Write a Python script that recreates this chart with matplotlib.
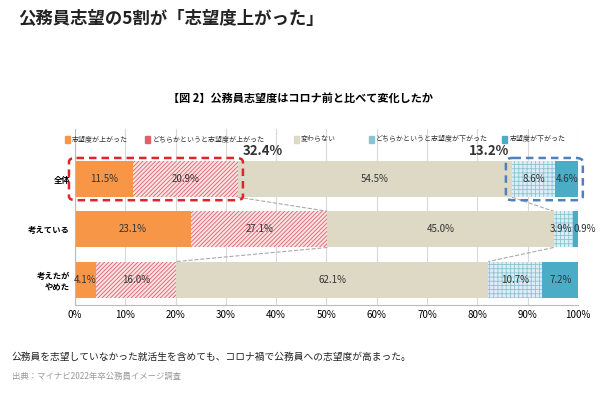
import matplotlib
matplotlib.use("Agg")
import matplotlib.pyplot as plt
from matplotlib.patches import FancyBboxPatch
import numpy as np

plt.rcParams["font.family"] = ["Noto Sans CJK JP", "DejaVu Sans"]
plt.rcParams["hatch.linewidth"] = 0.6

categories = ["全体", "考えている", "考えたが\nやめた"]
series_names = ["志望度が上がった", "どちらかというと志望度が上がった", "変わらない",
                "どちらかというと志望度が下がった", "志望度が下がった"]
values = [
    [11.5, 23.1, 4.1],
    [20.9, 27.1, 16.0],
    [54.5, 45.0, 62.1],
    [8.6, 3.9, 10.7],
    [4.6, 0.9, 7.2],
]
up_total = "32.4%"
down_total = "13.2%"
xticks = [0, 10, 20, 30, 40, 50, 60, 70, 80, 90, 100]

colors = ["#F79646", "#FBE3E3", "#DDD9C4", "#DCEEF3", "#4BACC6"]
hatches = [None, "////////", None, "++++", None]
hatch_colors = [None, "#E0606A", None, "#8CC3D4", None]

fig = plt.figure(figsize=(6, 4), dpi=100)
fig.text(0.03, 0.94, "公務員志望の5割が「志望度上がった」", fontsize=12.5, fontweight="bold", color="#222222")
fig.text(0.5, 0.745, "【図 2】公務員志望度はコロナ前と比べて変化したか", fontsize=8, fontweight="bold", ha="center")
fig.text(0.02, 0.1, "公務員を志望していなかった就活生を含めても、コロナ禍で公務員への志望度が高まった。", fontsize=7, color="#222222")
fig.text(0.02, 0.052, "出典：マイナビ2022年卒公務員イメージ調査", fontsize=6, color="#999999")

ax = fig.add_axes([0.125, 0.238, 0.838, 0.44])
y = np.array([0, 1, 2])
bh = 0.72
left = np.zeros(3)
for i, vals in enumerate(values):
    v = np.array(vals)
    ax.barh(y, v, left=left, height=bh, color=colors[i], edgecolor=hatch_colors[i] if hatches[i] else colors[i],
            hatch=hatches[i], linewidth=0, zorder=2)
    for j in range(3):
        x = left[j] + v[j] / 2
        ha = "center"
        if i == 3 and v[j] < 5:
            x, ha = 98.9, "right"
        if i == 4 and v[j] < 2:
            x, ha = 99.1, "left"
        ax.text(x, y[j], f"{v[j]:.1f}%", ha=ha, va="center", fontsize=7, color="#333333", zorder=5, clip_on=False)
    left = left + v

ax.set_ylim(2.5, -1.0)
ax.set_xlim(0, 100)
ax.set_yticks(y)
ax.set_yticklabels(categories, fontsize=6, fontweight="bold")
ax.set_xticks(xticks)
ax.set_xticklabels([f"{t}%" for t in xticks], fontsize=7)
ax.tick_params(length=0)
ax.grid(axis="x", color="#D9D9D9", linewidth=0.8, zorder=0)
ax.set_axisbelow(True)
for s in ["top", "right"]:
    ax.spines[s].set_visible(False)
ax.spines["left"].set_color("#BBBBBB")
ax.spines["bottom"].set_color("#BBBBBB")

# connector lines
cum = np.cumsum(np.array(values), axis=0)
for j in range(2):
    for a, b in [(0, 0), (cum[1][j], cum[1][j + 1]), (cum[2][j], cum[2][j + 1]), (100, 100)]:
        ax.plot([a, b], [j + bh / 2, j + 1 - bh / 2], ls="--", color="#AAAAAA", lw=0.8, zorder=1)

# highlight boxes
ax.add_patch(FancyBboxPatch((-1.2, -bh / 2 - 0.06), cum[1][0] + 2.2, bh + 0.12,
                            boxstyle="round,pad=0,rounding_size=1.5", fill=False, ec="#E0242C",
                            ls=(0, (3, 2)), lw=1.8, zorder=6, mutation_aspect=0.05, clip_on=False))
ax.add_patch(FancyBboxPatch((cum[2][0] - 1.2, -bh / 2 - 0.06), 100 - cum[2][0] + 2.2, bh + 0.12,
                            boxstyle="round,pad=0,rounding_size=1.5", fill=False, ec="#4F81BD",
                            ls=(0, (3, 2)), lw=1.8, zorder=6, mutation_aspect=0.05, clip_on=False))
ax.text(cum[1][0] + 1, -bh / 2 - 0.05, up_total, fontsize=9.5, fontweight="bold", color="#333333", va="bottom")
ax.text(cum[2][0] - 0.5, -bh / 2 - 0.05, down_total, fontsize=9.5, fontweight="bold", color="#333333", va="bottom", ha="right")

# legend
lx = [-2, 14.0, 43.5, 58.5, 85.0]
for i, name in enumerate(series_names):
    ax.add_patch(plt.Rectangle((lx[i], -0.86), 1.0, 0.14, color=colors[i] if i not in (1, 3) else hatch_colors[i],
                               clip_on=False, zorder=5))
    ax.text(lx[i] + 1.4, -0.79, name, fontsize=5.0, va="center", color="#333333", clip_on=False)

fig.savefig("out.png", dpi=100)
